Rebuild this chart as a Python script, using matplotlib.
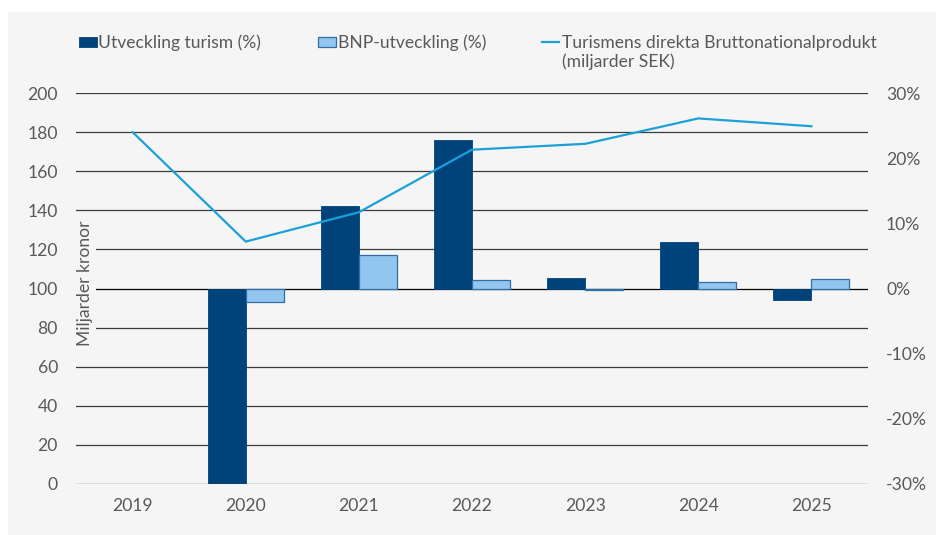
import matplotlib
matplotlib.use("Agg")
import matplotlib.pyplot as plt
from matplotlib.patches import Rectangle
from matplotlib.lines import Line2D
import numpy as np

years = ["2019", "2020", "2021", "2022", "2023", "2024", "2025"]
turism_pct = [np.nan, -50.0, 12.6, 22.8, 1.6, 7.2, -1.8]
bnp_pct = [np.nan, -2.0, 5.2, 1.3, -0.3, 1.0, 1.4]
bnp_turism = [180, 124, 139, 171, 174, 187, 183]

left_ticks = list(range(0, 201, 20))
right_ticks = [-30, -20, -10, 0, 10, 20, 30]

dark = "#00427a"
light = "#93c6ee"
light_edge = "#2f6ea8"
line_col = "#1ba1d8"
txt = "#595959"
bg = "#f5f5f5"
fs = 12.6

plt.rcParams['font.family'] = ['Lato', 'DejaVu Sans']
plt.rcParams['font.size'] = fs

fig = plt.figure(figsize=(9.36, 5.35), dpi=100)
fig.patch.set_facecolor("white")
# grey panel behind everything
fig.patches.append(Rectangle((8 / 936, 0), 1, 1 - 12 / 535, transform=fig.transFigure,
                             facecolor=bg, edgecolor="none", zorder=-10))

ax = fig.add_axes([76 / 936, 1 - 484 / 535, 792 / 936, 391 / 535])
ax.set_facecolor("none")
x = np.arange(len(years))

# gridlines on the left scale
for v in left_ticks:
    ax.axhline(v, color="black" if v == 100 else "#3c3c3c", lw=0.9, zorder=0)
ax.set_ylim(0, 200)
ax.set_xlim(-0.5, len(years) - 0.5)
ax.set_yticks(left_ticks)
ax.set_xticks(x)
ax.set_xticklabels(years)
ax.tick_params(axis="y", length=0, pad=13, colors=txt, labelsize=fs)
ax.tick_params(axis="x", length=0, pad=10, colors=txt, labelsize=fs)
for s in ax.spines.values():
    s.set_visible(False)
ax.text(0.011, 0.514, "Miljarder kronor", transform=ax.transAxes, rotation=90,
        ha="center", va="center", color=txt, fontsize=fs,
        bbox=dict(facecolor=bg, edgecolor="none", pad=2), zorder=5)

# bars on the percent scale
ax2 = ax.twinx()
w = 0.336
ax2.bar(x - w / 2, turism_pct, width=w, color=dark, edgecolor=dark, linewidth=0.6, zorder=2)
ax2.bar(x + w / 2, bnp_pct, width=w, color=light, edgecolor=light_edge, linewidth=0.9, zorder=2)
ax2.set_ylim(-30, 30)
ax2.set_yticks(right_ticks)
ax2.set_yticklabels([f"{t}%" for t in right_ticks])
ax2.tick_params(axis="y", length=0, pad=13, colors=txt, labelsize=fs)
for s in ax2.spines.values():
    s.set_visible(False)

# line on the left scale, drawn on top
ax3 = ax.twinx()
ax3.plot(x, bnp_turism, color=line_col, lw=1.6, zorder=3)
ax3.set_ylim(0, 200)
ax3.set_yticks([])
for s in ax3.spines.values():
    s.set_visible(False)

# legend
fig.patches.append(Rectangle((79 / 936, 1 - 47 / 535), 18 / 936, 10 / 535, transform=fig.transFigure,
                             facecolor=dark, edgecolor=dark, lw=0.6))
fig.text(98 / 936, 1 - 48 / 535, "Utveckling turism (%)", color=txt, fontsize=fs, va="baseline")
fig.patches.append(Rectangle((318 / 936, 1 - 47 / 535), 18 / 936, 10 / 535, transform=fig.transFigure,
                             facecolor=light, edgecolor=light_edge, lw=0.9))
fig.text(338 / 936, 1 - 48 / 535, "BNP-utveckling (%)", color=txt, fontsize=fs, va="baseline")
fig.lines.append(Line2D([542 / 936, 559 / 936], [1 - 42 / 535, 1 - 42 / 535], transform=fig.transFigure,
                        color=line_col, lw=1.6))
fig.text(562 / 936, 1 - 48 / 535, "Turismens direkta Bruttonationalprodukt", color=txt, fontsize=fs, va="baseline")
fig.text(562 / 936, 1 - 67 / 535, "(miljarder SEK)", color=txt, fontsize=fs, va="baseline")

fig.savefig("out.png", dpi=100, facecolor=fig.get_facecolor())
